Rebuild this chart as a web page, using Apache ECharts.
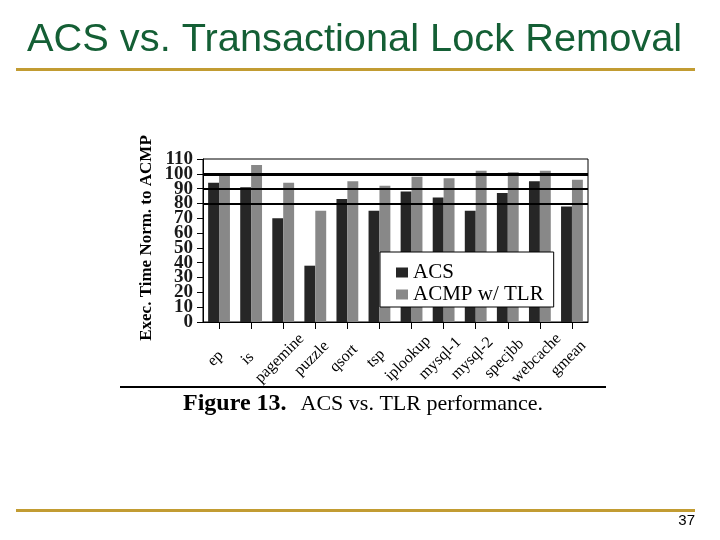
<!DOCTYPE html>
<html>
<head>
<meta charset="utf-8">
<script src="https://cdn.jsdelivr.net/npm/echarts@6/dist/echarts.min.js"></script>
<style>
  html, body { margin: 0; padding: 0; background: #fff; }
  #chart { width: 720px; height: 540px; }
</style>
</head>
<body>
<div id="chart"></div>
<script>
// benchmarks on the x axis
const categories = ["ep", "is", "pagemine", "puzzle", "qsort", "tsp", "iplookup",
  "mysql-1", "mysql-2", "specjbb", "webcache", "gmean"];
// execution time normalised to ACMP (%)
const acs = [94, 91, 70, 38, 83, 75, 88, 84, 75, 87, 95, 78];
const acmpTlr = [100, 106, 94, 75, 95, 92, 98, 97, 102, 101, 102, 96];
// y tick labels
const yTicks = [0, 10, 20, 30, 40, 50, 60, 70, 80, 90, 100, 110];
// horizontal reference lines drawn in the plot
const refLines = [80, 90, 100];

const serif = "Liberation Serif";
const myChart = echarts.init(document.getElementById("chart"));

const staticGraphics = [
  {
    type: "text", left: 27, top: 21, scaleX: 1.02,
    style: { text: "ACS vs. Transactional Lock Removal", font: "39px 'Liberation Sans'", fill: "#145f35" }
  },
  { type: "rect", shape: { x: 16, y: 68, width: 679, height: 3 }, style: { fill: "#c29c32" } },
  { type: "rect", shape: { x: 16, y: 509, width: 679, height: 3 }, style: { fill: "#c29c32" } },
  {
    type: "text", right: 25, top: 513,
    style: { text: "37", font: "15px 'Liberation Sans'", fill: "#000" }
  },
  { type: "rect", shape: { x: 120, y: 386, width: 486, height: 2 }, style: { fill: "#000" } },
  {
    type: "text", left: 183, top: 392,
    style: {
      text: "{b|Figure 13.}{r|ACS vs. TLR performance.}",
      rich: {
        b: { font: "bold 24px 'Liberation Serif'", fill: "#000" },
        r: { font: "22px 'Liberation Serif'", fill: "#000", padding: [0, 0, 0, 14] }
      }
    }
  },
  // y axis title
  {
    type: "text", x: 147, y: 238, rotation: Math.PI / 2,
    style: {
      text: "Exec. Time Norm. to ACMP", font: "bold 17px 'Liberation Serif'",
      fill: "#000", align: "center", verticalAlign: "middle"
    }
  }
];

const option = {
  animation: false,
  backgroundColor: "#fff",
  graphic: staticGraphics,
  legend: {
    data: ["ACS", "ACMP w/ TLR"],
    orient: "vertical",
    left: 380, top: 252,
    padding: [10, 10, 2, 16],
    itemGap: 1,
    icon: "rect",
    itemWidth: 12, itemHeight: 10,
    backgroundColor: "#fff",
    borderColor: "#000", borderWidth: 1,
    textStyle: { fontFamily: serif, fontSize: 21, color: "#000" }
  },
  grid: {
    left: 203, top: 159, width: 385, height: 163,
    show: true, borderColor: "#000", borderWidth: 1
  },
  xAxis: {
    type: "category",
    data: categories,
    axisLine: { lineStyle: { color: "#000", width: 1 } },
    axisTick: { show: true, alignWithLabel: true, length: 7, lineStyle: { color: "#000" } },
    axisLabel: {
      rotate: 45, fontFamily: serif, fontSize: 16, color: "#000", interval: 0,
      margin: 33, align: "center", verticalAlign: "middle", padding: [0, 10, 0, 0]
    }
  },
  yAxis: {
    type: "value",
    min: 0, max: 110, interval: 10,
    axisLine: { show: true, lineStyle: { color: "#000", width: 1 } },
    axisTick: { show: true, length: 6, lineStyle: { color: "#000" } },
    axisLabel: { show: false },
    splitLine: { show: false }
  },
  series: [
    {
      name: "ref",
      type: "line",
      data: [],
      z: 1,
      silent: true,
      markLine: {
        silent: true,
        symbol: "none",
        label: { show: false },
        data: refLines.map(v => ({
          yAxis: v,
          lineStyle: { color: "#000", type: "solid", width: v === 100 ? 3 : 2 }
        }))
      }
    },
    {
      name: "ACS",
      type: "bar",
      data: acs,
      z: 3,
      barGap: "0%",
      barCategoryGap: "32%",
      itemStyle: { color: "#262626" }
    },
    {
      name: "ACMP w/ TLR",
      type: "bar",
      data: acmpTlr,
      z: 3,
      itemStyle: { color: "#888888" }
    }
  ]
};

myChart.setOption(option);

// tick labels sit closer than ECharts' overlap check allows, so place them
// through the axis scale as plain text
const yLabelGraphics = yTicks.map(v => ({
  type: "text",
  x: 193,
  y: myChart.convertToPixel({ yAxisIndex: 0 }, v),
  style: {
    text: String(v), font: "bold 19px 'Liberation Serif'", fill: "#1a1a1a",
    align: "right", verticalAlign: "middle"
  }
}));

myChart.setOption({ graphic: staticGraphics.concat(yLabelGraphics) });
</script>
</body>
</html>
